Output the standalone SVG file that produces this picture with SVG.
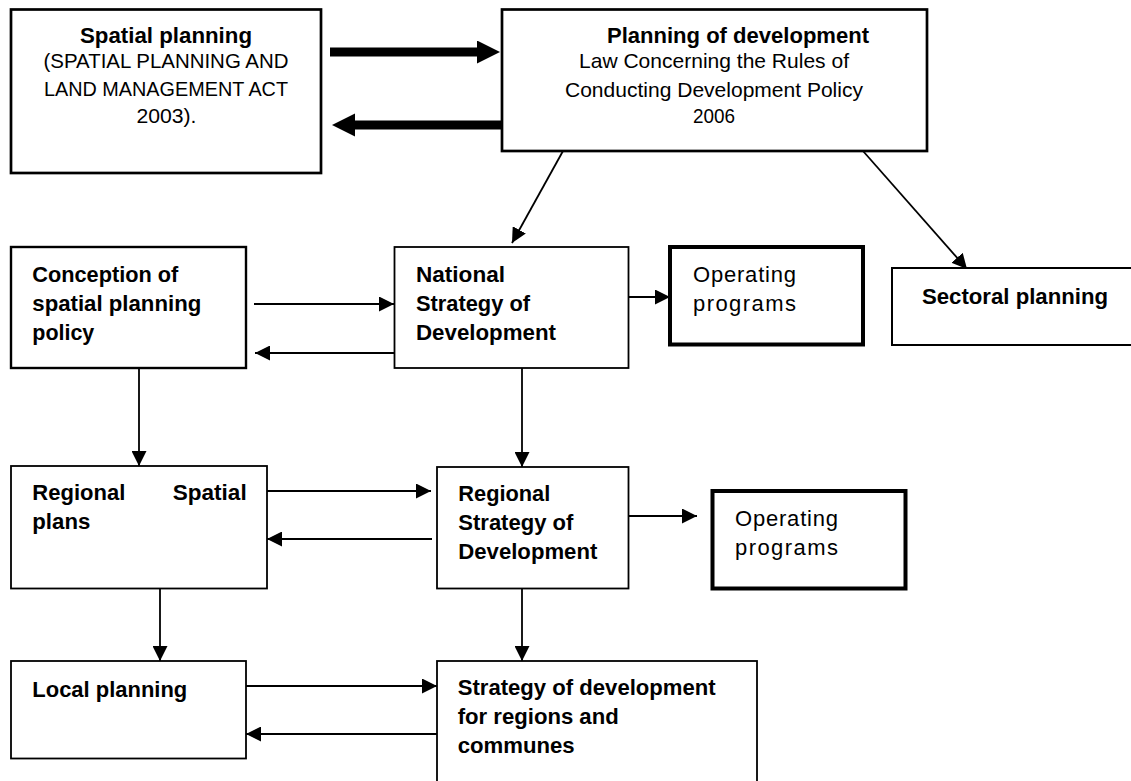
<svg xmlns="http://www.w3.org/2000/svg" width="1131" height="781" viewBox="0 0 1131 781">
<style>
  .box { fill: #ffffff; stroke: #000000; }
  .t { font-family: "Liberation Sans", Arial, sans-serif; font-size: 21px; fill: #000000; }
  .b { font-family: "Liberation Sans", Arial, sans-serif; font-size: 22px; font-weight: 700; fill: #000000; }
  .op { font-family: "Liberation Sans", Arial, sans-serif; font-size: 22px; fill: #000000; }
  .c { stroke: #000000; stroke-width: 1.8; fill: none; marker-end: url(#ah); }
  .ct { stroke: #000000; stroke-width: 9; fill: none; marker-end: url(#ahThick); }
</style>
<defs>
  <marker id="ah" markerUnits="userSpaceOnUse" markerWidth="15" markerHeight="15" refX="15" refY="7.5" orient="auto">
    <path d="M0,0 L15,7.5 L0,15 Z" fill="#000000"/>
  </marker>
  <marker id="ahThick" markerUnits="userSpaceOnUse" markerWidth="24" markerHeight="24" refX="1" refY="11.5" orient="auto">
    <path d="M0,0 L23,11.5 L0,23 Z" fill="#000000"/>
  </marker>
</defs>
<rect width="1131" height="781" fill="#ffffff"/>

<g id="connectors">
  <line class="ct" x1="330" y1="52" x2="478" y2="52"/>
  <line class="ct" x1="502" y1="125" x2="354" y2="125"/>
  <line class="c" x1="563" y1="151" x2="512" y2="243"/>
  <line class="c" x1="863" y1="151" x2="967" y2="269"/>
  <line class="c" x1="254" y1="304" x2="394" y2="304"/>
  <line class="c" x1="394" y1="353" x2="255" y2="353"/>
  <line class="c" x1="628" y1="297" x2="670" y2="297"/>
  <line class="c" x1="139" y1="368" x2="139" y2="466"/>
  <line class="c" x1="522" y1="368" x2="522" y2="467"/>
  <line class="c" x1="267" y1="491" x2="431" y2="491"/>
  <line class="c" x1="432" y1="539" x2="267" y2="539"/>
  <line class="c" x1="628" y1="516" x2="697" y2="516"/>
  <line class="c" x1="160" y1="588" x2="160" y2="661"/>
  <line class="c" x1="522" y1="588" x2="522" y2="661"/>
  <line class="c" x1="246" y1="686" x2="437" y2="686"/>
  <line class="c" x1="437" y1="734" x2="246" y2="734"/>
</g>

<g id="spatial-planning">
  <rect class="box" x="11" y="9.5" width="310" height="163.5" stroke-width="2.7"/>
  <text class="b" x="166" y="43" text-anchor="middle" textLength="172" lengthAdjust="spacingAndGlyphs">Spatial planning</text>
  <text class="t" x="166" y="68" text-anchor="middle" textLength="245" lengthAdjust="spacingAndGlyphs">(SPATIAL PLANNING AND</text>
  <text class="t" x="166" y="95.5" text-anchor="middle" textLength="244" lengthAdjust="spacingAndGlyphs">LAND MANAGEMENT ACT</text>
  <text class="t" x="166.5" y="122.5" text-anchor="middle" textLength="60" lengthAdjust="spacingAndGlyphs">2003).</text>
</g>

<g id="planning-of-development">
  <rect class="box" x="502" y="9.5" width="425" height="141.5" stroke-width="2.7"/>
  <text class="b" x="607" y="43" textLength="262" lengthAdjust="spacingAndGlyphs">Planning of development</text>
  <text class="t" x="714" y="68" text-anchor="middle" textLength="270" lengthAdjust="spacingAndGlyphs">Law Concerning the Rules of</text>
  <text class="t" x="714" y="96.5" text-anchor="middle" textLength="298" lengthAdjust="spacingAndGlyphs">Conducting Development Policy</text>
  <text class="t" x="714" y="122.5" text-anchor="middle" textLength="42" lengthAdjust="spacingAndGlyphs">2006</text>
</g>

<g id="conception">
  <rect class="box" x="11" y="247" width="235" height="121" stroke-width="2.4"/>
  <text class="b" x="32.3" y="281.5" textLength="146" lengthAdjust="spacingAndGlyphs">Conception of</text>
  <text class="b" x="32.3" y="310.5" textLength="169" lengthAdjust="spacingAndGlyphs">spatial planning</text>
  <text class="b" x="32.3" y="340" textLength="62" lengthAdjust="spacingAndGlyphs">policy</text>
</g>

<g id="national-strategy">
  <rect class="box" x="394.5" y="247" width="234" height="121" stroke-width="1.8"/>
  <text class="b" x="416" y="281.5" textLength="89" lengthAdjust="spacingAndGlyphs">National</text>
  <text class="b" x="416" y="310.5" textLength="114" lengthAdjust="spacingAndGlyphs">Strategy of</text>
  <text class="b" x="416" y="340" textLength="140" lengthAdjust="spacingAndGlyphs">Development</text>
</g>

<g id="operating-programs-1">
  <rect class="box" x="670" y="247" width="193" height="97.5" stroke-width="4"/>
  <text class="op" x="693" y="281.5" textLength="103" lengthAdjust="spacing">Operating</text>
  <text class="op" x="693" y="311" textLength="103" lengthAdjust="spacing">programs</text>
</g>

<g id="sectoral-planning">
  <rect class="box" x="892" y="268" width="245" height="77" stroke-width="2"/>
  <text class="b" x="922" y="304" textLength="186" lengthAdjust="spacingAndGlyphs">Sectoral planning</text>
</g>

<g id="regional-spatial-plans">
  <rect class="box" x="11" y="466" width="256" height="122.5" stroke-width="1.8"/>
  <text class="b" y="500"><tspan x="32.3" textLength="93" lengthAdjust="spacingAndGlyphs">Regional</tspan><tspan x="172.7" textLength="74" lengthAdjust="spacingAndGlyphs">Spatial</tspan></text>
  <text class="b" x="32.3" y="528.5" textLength="58" lengthAdjust="spacingAndGlyphs">plans</text>
</g>

<g id="regional-strategy">
  <rect class="box" x="437" y="467" width="191.5" height="121.5" stroke-width="1.8"/>
  <text class="b" x="458.3" y="501" textLength="92" lengthAdjust="spacingAndGlyphs">Regional</text>
  <text class="b" x="458.3" y="529.5" textLength="115" lengthAdjust="spacingAndGlyphs">Strategy of</text>
  <text class="b" x="458.3" y="559" textLength="139" lengthAdjust="spacingAndGlyphs">Development</text>
</g>

<g id="operating-programs-2">
  <rect class="box" x="712.5" y="491" width="193" height="97.5" stroke-width="4"/>
  <text class="op" x="735" y="526" textLength="103" lengthAdjust="spacing">Operating</text>
  <text class="op" x="735" y="554.5" textLength="103" lengthAdjust="spacing">programs</text>
</g>

<g id="local-planning">
  <rect class="box" x="11" y="661" width="235" height="97.5" stroke-width="1.8"/>
  <text class="b" x="32.3" y="696.5" textLength="155" lengthAdjust="spacingAndGlyphs">Local planning</text>
</g>

<g id="strategy-regions-communes">
  <rect class="box" x="437" y="661" width="320" height="140" stroke-width="1.8"/>
  <text class="b" x="457.7" y="695" textLength="258" lengthAdjust="spacingAndGlyphs">Strategy of development</text>
  <text class="b" x="457.7" y="724" textLength="161" lengthAdjust="spacingAndGlyphs">for regions and</text>
  <text class="b" x="457.7" y="753" textLength="117" lengthAdjust="spacingAndGlyphs">communes</text>
</g>
</svg>
